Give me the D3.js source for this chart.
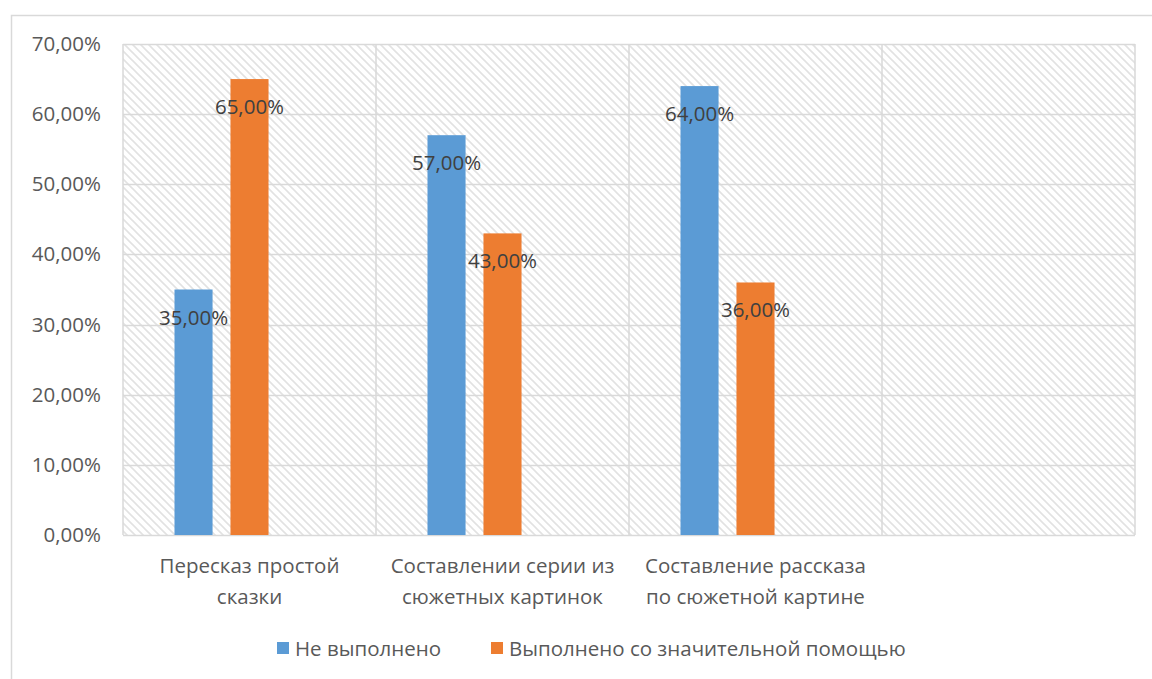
<!DOCTYPE html>
<html><head><meta charset="utf-8">
<script src="https://cdn.jsdelivr.net/npm/d3@7"></script>
<style>body{margin:0;background:#fff}svg{display:block}text{font-family:"Open Sans","Noto Sans",sans-serif}</style>
</head><body><svg id="c" width="1152" height="679"></svg>
<script>
const categories = [["Пересказ простой","сказки"],["Составлении серии из","сюжетных картинок"],["Составление рассказа","по сюжетной картине"],[""]];
const seriesNames = ["Не выполнено","Выполнено со значительной помощью",""];
const notDone = [35, 57, 64, null];
const withHelp = [65, 43, 36, null];
const empty = [null, null, null, null];
const seriesValues = [notDone, withHelp, empty];
const colors = ["#5b9bd5","#ed7d31","none"];
const yTicks = [0,10,20,30,40,50,60,70];

(function(){
const svg = d3.select("#c");
const pL = 123, pR = 1135, pT = 44, pB = 535;
const FS = 20.5;
const fmt = v => d3.format(".2f")(v).replace(".", ",") + "%";

const defs = svg.append("defs");
const pat = defs.append("pattern").attr("id","hatch").attr("patternUnits","userSpaceOnUse")
  .attr("width",8).attr("height",8);
pat.append("path").attr("d","M-2,-2 L10,10 M-2,6 L2,10 M6,-2 L10,2")
  .attr("stroke","#e2e2e2").attr("stroke-width",1.6).attr("fill","none");

svg.append("rect").attr("x",11.5).attr("y",15.5).attr("width",1200).attr("height",700)
  .attr("fill","#fff").attr("stroke","#d9d9d9").attr("stroke-width",1.5);

const x = d3.scaleBand().domain(d3.range(categories.length)).range([pL,pR]).padding(0);
const xs = d3.scaleBand().domain(d3.range(seriesNames.length)).range([0,x.bandwidth()]).paddingInner(0.32).paddingOuter(0.92);
const y = d3.scaleLinear().domain([0,70]).range([pB,pT]);

svg.append("rect").attr("x",pL).attr("y",pT).attr("width",pR-pL).attr("height",pB-pT).attr("fill","url(#hatch)");

svg.append("g").selectAll("line").data(yTicks).join("line")
  .attr("x1",pL).attr("x2",pR).attr("y1",d=>Math.round(y(d))+0.5).attr("y2",d=>Math.round(y(d))+0.5)
  .attr("stroke","#d9d9d9").attr("stroke-width",1.5);
svg.append("g").selectAll("line").data(d3.range(categories.length+1)).join("line")
  .attr("x1",d=>d<categories.length?x(d):pR).attr("x2",d=>d<categories.length?x(d):pR)
  .attr("y1",pT).attr("y2",pB).attr("stroke","#d9d9d9").attr("stroke-width",1.5);

const yAxis = d3.axisLeft(y).tickValues(yTicks).tickFormat(fmt).tickSize(0).tickPadding(0);
const ga = svg.append("g").attr("transform",`translate(${pL-22},0)`).call(yAxis);
ga.select(".domain").remove();
ga.selectAll("text").attr("font-size",FS).attr("fill","#595959").attr("font-family",'"Open Sans","Noto Sans",sans-serif');

seriesValues.forEach((vals,si)=>{
  const g = svg.append("g");
  const data = vals.map((v,i)=>({v,i})).filter(d=>d.v!=null);
  g.selectAll("rect").data(data).join("rect")
    .attr("x",d=>x(d.i)+xs(si)).attr("width",xs.bandwidth())
    .attr("y",d=>y(d.v)).attr("height",d=>y(0)-y(d.v)).attr("fill",colors[si]);
  g.selectAll("text").data(data).join("text")
    .attr("x",d=>x(d.i)+xs(si)+xs.bandwidth()/2).attr("y",d=>y(d.v)+35)
    .attr("text-anchor","middle").attr("font-size",FS).attr("fill","#404040").text(d=>fmt(d.v));
});

categories.forEach((lines,i)=>{
  const t = svg.append("text").attr("x",x(i)+x.bandwidth()/2).attr("y",573)
    .attr("text-anchor","middle").attr("font-size",FS).attr("fill","#595959");
  lines.forEach((l,k)=>t.append("tspan").attr("x",x(i)+x.bandwidth()/2).attr("dy",k?31:0).text(l));
});

const legend = [{n:seriesNames[0],c:colors[0],x:277},{n:seriesNames[1],c:colors[1],x:491}];
legend.forEach(d=>{
  svg.append("rect").attr("x",d.x).attr("y",642).attr("width",12).attr("height",12).attr("fill",d.c);
  svg.append("text").attr("x",d.x+18).attr("y",656).attr("font-size",FS).attr("fill","#595959").text(d.n);
});
})();
</script></body></html>
